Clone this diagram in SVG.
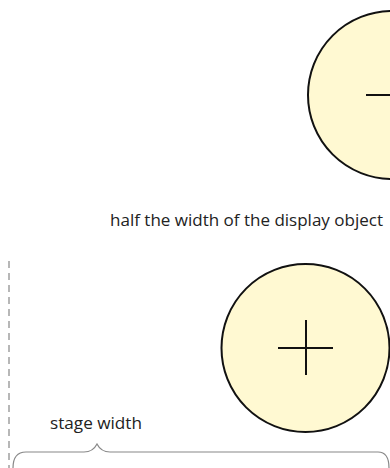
<svg xmlns="http://www.w3.org/2000/svg" width="390" height="468" viewBox="0 0 390 468">
<style>
.obj{fill:#fff9d2;stroke:#111;stroke-width:2}
.cross{stroke:#111;stroke-width:2;fill:none}
.lbl{font-family:"Open Sans","Liberation Sans",sans-serif;font-size:16.5px;fill:#222}
.guide{stroke:#888;stroke-width:1.2;fill:none}
</style>
<rect width="390" height="468" fill="#fff"/>
<g id="top-object">
<circle class="obj" cx="392" cy="95" r="84"/>
<line class="cross" x1="366" y1="95" x2="390" y2="95"/>
</g>
<g id="half-width-label">
<text class="lbl" x="110" y="226" textLength="273" lengthAdjust="spacingAndGlyphs">half the width of the display object</text>
</g>
<g id="bottom-object">
<circle class="obj" cx="305.5" cy="348" r="84"/>
<line class="cross" x1="278" y1="348" x2="333" y2="348"/>
<line class="cross" x1="306" y1="320" x2="306" y2="375"/>
</g>
<g id="stage-edge">
<line class="guide" x1="9" y1="261" x2="9" y2="468" stroke-dasharray="7 5"/>
</g>
<g id="stage-width">
<text class="lbl" x="50" y="429" textLength="92" lengthAdjust="spacingAndGlyphs">stage width</text>
<path class="guide" d="M13 468 Q13 452 26 452 L84 452 Q93 452 97 444 Q101 452 110 452 L378 452 Q389 452 389 468" stroke-width="1.6"/>
</g>
</svg>
